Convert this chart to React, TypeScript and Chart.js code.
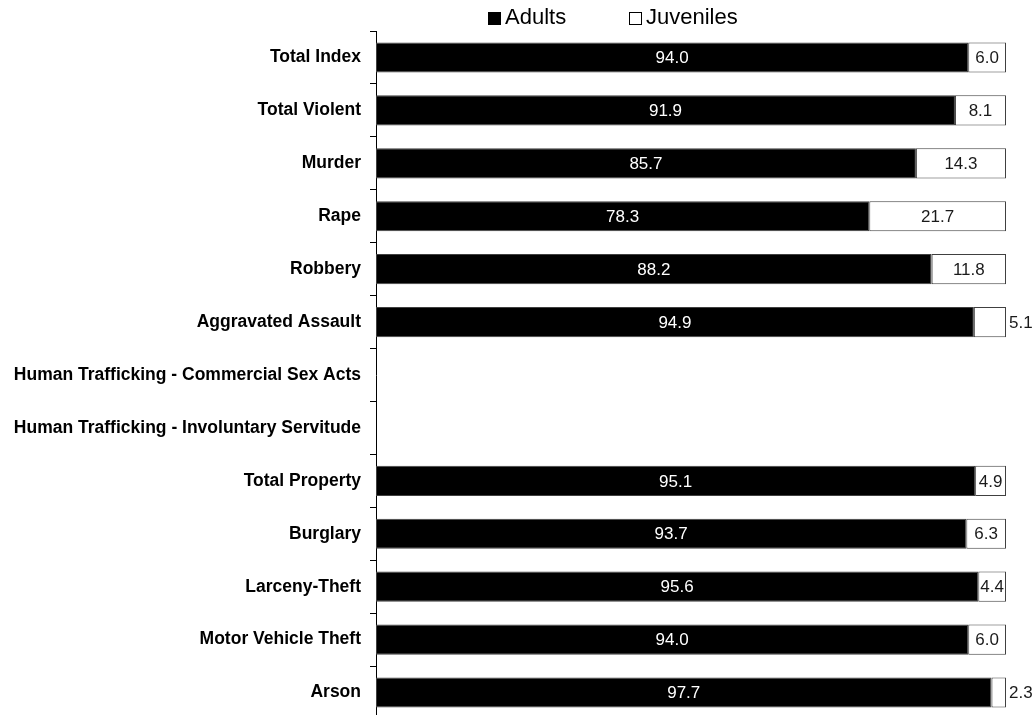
import React, { useEffect, useRef } from "react";
import { Chart, registerables } from "chart.js";

Chart.register(...registerables);

const categories = [
  "Total Index",
  "Total Violent",
  "Murder",
  "Rape",
  "Robbery",
  "Aggravated Assault",
  "Human Trafficking - Commercial Sex Acts",
  "Human Trafficking - Involuntary Servitude",
  "Total Property",
  "Burglary",
  "Larceny-Theft",
  "Motor Vehicle Theft",
  "Arson",
];

const adults: (number | null)[] = [94.0, 91.9, 85.7, 78.3, 88.2, 94.9, null, null, 95.1, 93.7, 95.6, 94.0, 97.7];
const juveniles: (number | null)[] = [6.0, 8.1, 14.3, 21.7, 11.8, 5.1, null, null, 4.9, 6.3, 4.4, 6.0, 2.3];
// categories whose juvenile label sits outside the bar end
const outsideJuvenileLabels = ["Aggravated Assault", "Arson"];

const FONT = "'Liberation Sans', Arial, sans-serif";

const labelPlugin = {
  id: "valueLabels",
  afterDatasetsDraw(chart: any) {
    const ctx = chart.ctx;
    ctx.save();
    ctx.font = `17px ${FONT}`;
    ctx.textBaseline = "middle";
    chart.data.datasets.forEach((ds: any, di: number) => {
      const meta = chart.getDatasetMeta(di);
      meta.data.forEach((bar: any, i: number) => {
        const v = ds.data[i];
        if (v === null || v === undefined) return;
        const txt = v.toFixed(1);
        const left = bar.base;
        const right = bar.x;
        let x = (left + right) / 2;
        if (di === 0) {
          ctx.fillStyle = "#ffffff";
          ctx.textAlign = "center";
        } else {
          ctx.fillStyle = "#1a1a1a";
          if (outsideJuvenileLabels.includes(categories[i])) {
            ctx.textAlign = "left";
            x = right + 3;
          } else {
            ctx.textAlign = "center";
          }
        }
        ctx.fillText(txt, x, bar.y + 1);
      });
    });
    ctx.restore();
  },
};

export default function App() {
  const ref = useRef<HTMLCanvasElement>(null);
  useEffect(() => {
    if (!ref.current) return;
    const chart = new Chart(ref.current, {
      type: "bar",
      data: {
        labels: categories,
        datasets: [
          {
            label: "Adults",
            data: adults,
            backgroundColor: "#000000",
            borderColor: "#404040",
            borderWidth: 1,
            borderSkipped: false,
            categoryPercentage: 1,
            barPercentage: 0.57,
          },
          {
            label: "Juveniles",
            data: juveniles,
            backgroundColor: "#ffffff",
            borderColor: "#404040",
            borderWidth: 1,
            borderSkipped: false,
            categoryPercentage: 1,
            barPercentage: 0.57,
          },
        ],
      },
      options: {
        indexAxis: "y",
        animation: false,
        responsive: false,
        devicePixelRatio: 1,
        layout: { padding: { top: 31, right: 30, bottom: 0, left: 0 } },
        plugins: {
          legend: { display: false },
          tooltip: { enabled: false },
        },
        scales: {
          x: {
            stacked: true,
            min: 0,
            max: 100,
            display: false,
          },
          y: {
            stacked: true,
            offset: true,
            grid: {
              offset: true,
              drawOnChartArea: false,
              tickLength: 6,
              color: "#000000",
              lineWidth: 1,
            },
            border: { display: true, color: "#000000", width: 1 },
            ticks: {
              color: "#000000",
              padding: 9,
              font: { family: FONT, size: 17.5, weight: "bold" },
              autoSkip: false,
            },
            afterFit(scale: any) {
              scale.width = 376;
              scale.paddingTop = 0;
              scale.paddingBottom = 0;
            },
          },
        },
      },
      plugins: [labelPlugin],
    });
    return () => chart.destroy();
  }, []);

  const sq = (fill: string, left: number) => ({
    position: "absolute" as const,
    left,
    top: 12,
    width: 13,
    height: 13,
    background: fill,
    border: "1px solid #000",
    boxSizing: "border-box" as const,
  });
  const txt = (left: number) => ({
    position: "absolute" as const,
    left,
    top: 3,
    fontFamily: FONT,
    fontSize: 22,
    color: "#000",
    whiteSpace: "nowrap" as const,
    lineHeight: "28px",
  });

  return (
    <div style={{ position: "absolute", left: 0, top: 0, width: 1036, height: 715, overflow: "hidden", background: "#fff" }}>
      <canvas ref={ref} width={1036} height={719} style={{ position: "absolute", left: 0, top: 0 }} />
      <span style={sq("#000", 488)} />
      <span style={txt(505)}>Adults</span>
      <span style={sq("#fff", 629)} />
      <span style={txt(646)}>Juveniles</span>
    </div>
  );
}
